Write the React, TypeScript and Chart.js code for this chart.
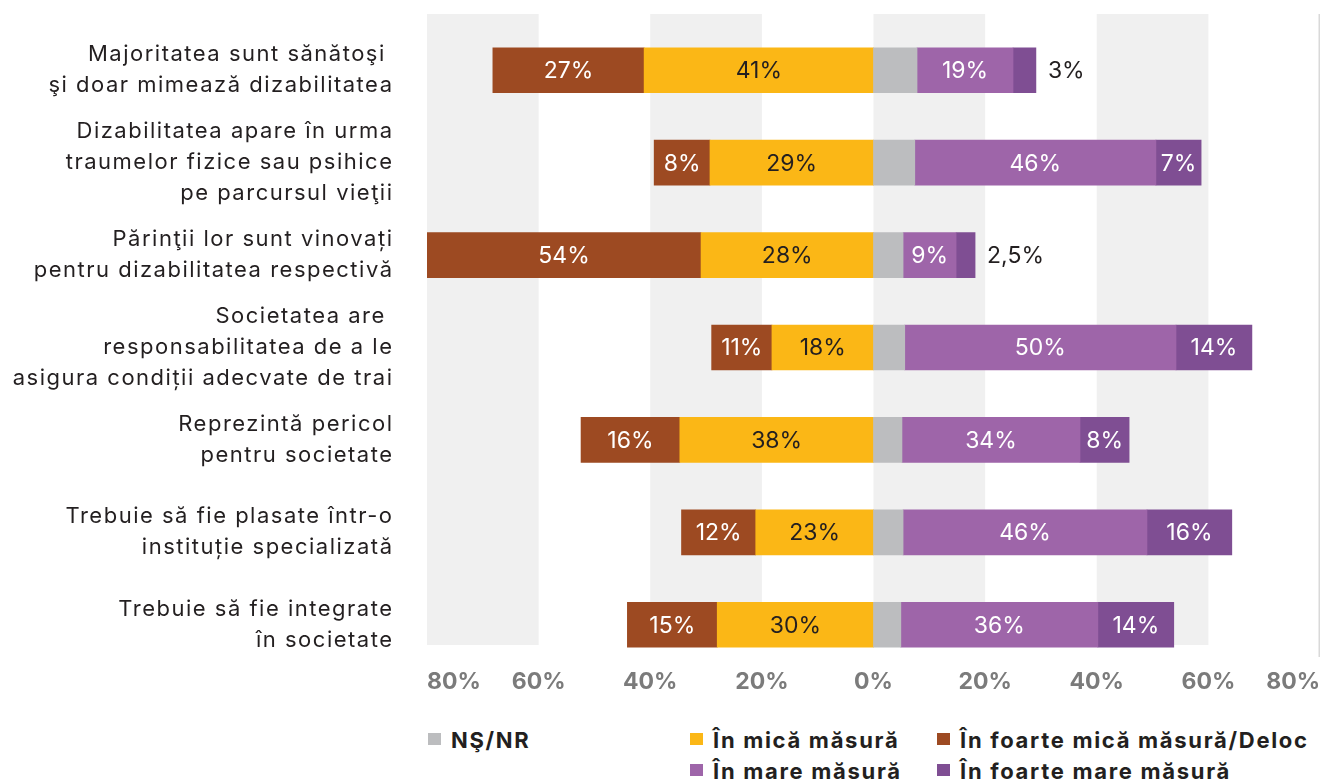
import React, { useEffect, useRef } from "react";
import { Chart, registerables } from "chart.js";

Chart.register(...registerables);

const FONT = "Inter, 'Noto Sans', 'DejaVu Sans', sans-serif";

// Categories (multi-line labels as shown)
const categories: string[][] = [
  ["Majoritatea sunt sănătoşi ", "şi doar mimează dizabilitatea"],
  ["Dizabilitatea apare în urma", "traumelor fizice sau psihice", "pe parcursul vieţii"],
  ["Părinţii lor sunt vinovați", "pentru dizabilitatea respectivă"],
  ["Societatea are ", "responsabilitatea de a le", "asigura condiții adecvate de trai"],
  ["Reprezintă pericol", "pentru societate"],
  ["Trebuie să fie plasate într-o", "instituție specializată"],
  ["Trebuie să fie integrate", "în societate"],
];

// Series names
const seriesNames = [
  "NŞ/NR",
  "În mică măsură",
  "În foarte mică măsură/Deloc",
  "În mare măsură",
  "În foarte mare măsură",
];

// Bar lengths (percent); "disagree" side is negative
const nsnrValues = [7.8, 7.4, 5.3, 5.6, 5.1, 5.3, 4.9];
const inMicaValues = [-41.1, -29.3, -30.9, -18.2, -34.7, -21.1, -28.0];
const foarteMicaValues = [-27.1, -10.0, -54.0, -10.8, -17.7, -13.3, -16.1];
const inMareValues = [17.2, 43.2, 9.5, 48.6, 31.9, 43.7, 35.3];
const foarteMareValues = [4.1, 8.1, 3.4, 13.6, 8.8, 15.2, 13.6];

// Value labels printed on the bars
const inMicaLabels = ["41%", "29%", "28%", "18%", "38%", "23%", "30%"];
const foarteMicaLabels = ["27%", "8%", "54%", "11%", "16%", "12%", "15%"];
const inMareLabels = ["19%", "46%", "9%", "50%", "34%", "46%", "36%"];
const foarteMareLabels = ["3%", "7%", "2,5%", "14%", "8%", "16%", "14%"];

// Axis
const xMin = -80;
const xMax = 80;
const xStep = 20;
const bandStarts = [-80, -40, 0, 40];

const COLORS = {
  nsnr: "#BCBDBF",
  mica: "#FBB716",
  foarteMica: "#9D4A22",
  mare: "#9E65A9",
  foarteMare: "#7F4E93",
};

const TEXT_DARK = "#231F20";

const bandsPlugin = {
  id: "bands",
  beforeDatasetsDraw(chart: any) {
    const { ctx, chartArea, scales } = chart;
    const xs = scales.x;
    const top = chartArea.top - 10;
    const bottom = chartArea.bottom - 26;
    ctx.save();
    ctx.fillStyle = "#F0F0F0";
    bandStarts.forEach((s) => {
      const x1 = xs.getPixelForValue(s);
      const x2 = xs.getPixelForValue(s + xStep);
      ctx.fillRect(x1, top, x2 - x1, bottom - top);
    });
    ctx.strokeStyle = "#D9D9D9";
    ctx.lineWidth = 1.5;
    ctx.beginPath();
    ctx.moveTo(chartArea.right - 0.75, top);
    ctx.lineTo(chartArea.right - 0.75, chartArea.bottom - 14);
    ctx.stroke();
    ctx.restore();
  },
};

const valueLabelPlugin = {
  id: "valueLabels",
  afterDatasetsDraw(chart: any) {
    const { ctx, chartArea } = chart;
    ctx.save();
    ctx.font = `400 23px ${FONT}`;
    ctx.textBaseline = "middle";
    chart.data.datasets.forEach((ds: any, di: number) => {
      const labels: string[] | undefined = ds.valueLabels;
      if (!labels) return;
      const meta = chart.getDatasetMeta(di);
      meta.data.forEach((bar: any, i: number) => {
        const text = labels[i];
        if (!text) return;
        const p = bar.getProps(["x", "base", "y"], true);
        const left = Math.max(Math.min(p.x, p.base), chartArea.left);
        const right = Math.min(Math.max(p.x, p.base), chartArea.right);
        const w = ctx.measureText(text).width;
        if (w + 8 <= right - left) {
          ctx.fillStyle = ds.labelColor;
          ctx.textAlign = "center";
          ctx.fillText(text, (left + right) / 2, p.y + 1);
        } else {
          ctx.fillStyle = TEXT_DARK;
          ctx.textAlign = "left";
          ctx.fillText(text, right + 12, p.y + 1);
        }
      });
    });
    ctx.restore();
  },
};

// Category labels drawn at the y scale's tick positions (wide tracking like the original)
const categoryLabelPlugin = {
  id: "categoryLabels",
  afterDraw(chart: any) {
    const { ctx, chartArea, scales } = chart;
    const ys = scales.y;
    const spacing = 1.5;
    const lineH = 31;
    ctx.save();
    ctx.font = `400 22px ${FONT}`;
    (ctx as any).letterSpacing = `${spacing}px`;
    ctx.fillStyle = TEXT_DARK;
    ctx.textAlign = "right";
    ctx.textBaseline = "middle";
    (chart.data.labels as string[][]).forEach((lines, i) => {
      const yc = ys.getPixelForTick(i);
      const n = lines.length;
      lines.forEach((line, j) => {
        ctx.fillText(line, chartArea.left - 35 + spacing, yc + (j - (n - 1) / 2) * lineH);
      });
    });
    ctx.restore();
  },
};

const legendRows: (number | null)[][] = [
  [0, 1, 2],
  [null, 3, 4],
];
const legendColumns = [428, 690, 937];
const legendRowCenters = [740, 771];

export default function App() {
  const canvasRef = useRef<HTMLCanvasElement | null>(null);

  useEffect(() => {
    if (!canvasRef.current) return;
    const chart = new Chart(canvasRef.current, {
      type: "bar",
      data: {
        labels: categories as any,
        datasets: [
          {
            label: seriesNames[0],
            data: nsnrValues,
            backgroundColor: COLORS.nsnr,
          },
          {
            label: seriesNames[1],
            data: inMicaValues,
            backgroundColor: COLORS.mica,
            valueLabels: inMicaLabels,
            labelColor: TEXT_DARK,
          } as any,
          {
            label: seriesNames[2],
            data: foarteMicaValues,
            backgroundColor: COLORS.foarteMica,
            valueLabels: foarteMicaLabels,
            labelColor: "#FFFFFF",
          } as any,
          {
            label: seriesNames[3],
            data: inMareValues,
            backgroundColor: COLORS.mare,
            valueLabels: inMareLabels,
            labelColor: "#FFFFFF",
          } as any,
          {
            label: seriesNames[4],
            data: foarteMareValues,
            backgroundColor: COLORS.foarteMare,
            valueLabels: foarteMareLabels,
            labelColor: "#FFFFFF",
          } as any,
        ],
      },
      options: {
        indexAxis: "y",
        responsive: false,
        animation: false,
        layout: { padding: { top: 24, right: 2, left: 0, bottom: 0 } },
        datasets: { bar: { barThickness: 45, borderWidth: 0 } },
        plugins: {
          legend: { display: false },
          tooltip: { enabled: false },
        },
        scales: {
          x: {
            stacked: true,
            min: xMin,
            max: xMax,
            grid: { display: false, drawTicks: false },
            border: { display: false },
            ticks: {
              stepSize: xStep,
              autoSkip: false,
              maxRotation: 0,
              align: "inner",
              padding: 0,
              color: "#7B7B7B",
              font: { family: FONT, size: 23, weight: "bold", lineHeight: 1 },
              callback: (v: any) => Math.abs(Number(v)) + "%",
            },
            afterFit: (s: any) => {
              s.height = 29;
              s.paddingLeft = 0;
              s.paddingRight = 0;
            },
          },
          y: {
            stacked: true,
            grid: { display: false, drawTicks: false },
            border: { display: false },
            ticks: { display: false, autoSkip: false },
            afterFit: (s: any) => {
              s.width = 427;
              s.paddingTop = 0;
              s.paddingBottom = 0;
            },
          },
        },
      } as any,
      plugins: [bandsPlugin, valueLabelPlugin, categoryLabelPlugin],
    });
    return () => chart.destroy();
  }, []);

  const legendColors = [COLORS.nsnr, COLORS.mica, COLORS.foarteMica, COLORS.mare, COLORS.foarteMare];

  return (
    <div
      style={{
        position: "fixed",
        left: 0,
        top: 0,
        width: 1322,
        height: 782,
        background: "#FFFFFF",
        overflow: "hidden",
      }}
    >
      <canvas ref={canvasRef} width={1322} height={700} style={{ display: "block" }} />
      {legendRows.map((row, ri) =>
        row.map((idx, ci) =>
          idx === null ? null : (
            <div
              key={`${ri}-${ci}`}
              style={{
                position: "absolute",
                left: legendColumns[ci],
                top: legendRowCenters[ri] - 15,
                height: 30,
                display: "flex",
                alignItems: "center",
                whiteSpace: "nowrap",
                fontFamily: FONT,
                fontWeight: 700,
                fontSize: 22,
                letterSpacing: "1.7px",
                color: TEXT_DARK,
              }}
            >
              <span
                style={{
                  display: "inline-block",
                  width: 13,
                  height: 12,
                  background: legendColors[idx],
                  marginRight: 10,
                  marginTop: -3,
                }}
              />
              <span>{seriesNames[idx]}</span>
            </div>
          )
        )
      )}
    </div>
  );
}
